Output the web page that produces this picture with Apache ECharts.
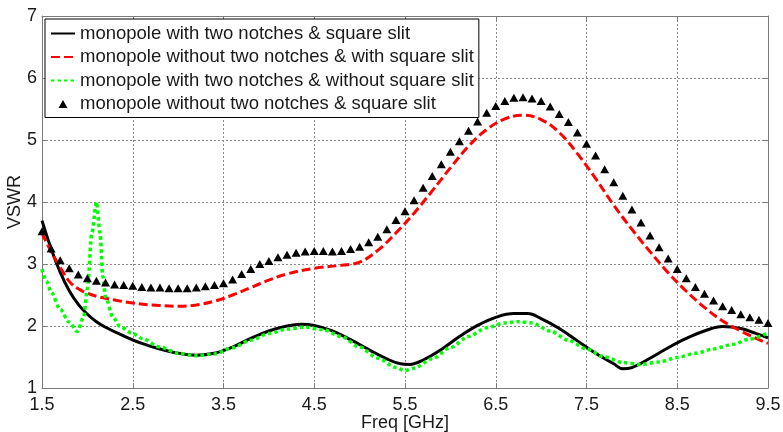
<!DOCTYPE html>
<html>
<head>
<meta charset="utf-8">
<script src="https://cdn.jsdelivr.net/npm/echarts@6/dist/echarts.min.js"></script>
<style>
  html, body { margin: 0; padding: 0; background: #fff; }
  #chart { width: 783px; height: 432px; }
</style>
</head>
<body>
<div id="chart"></div>
<script>
// Axis ticks
const freqTicks = [1.5, 2.5, 3.5, 4.5, 5.5, 6.5, 7.5, 8.5, 9.5];
const vswrTicks = [1, 2, 3, 4, 5, 6, 7];

// Series names
const seriesNames = [
  'monopole with two notches & square slit',
  'monopole without two notches & with square slit',
  'monopole with two notches & without square slit',
  'monopole without two notches & square slit'
];

// monopole with two notches & square slit
const blackFreq = [1.5, 1.6, 1.7, 1.8, 1.9, 2.0, 2.1, 2.2, 2.4, 2.6, 2.8, 3.0, 3.2, 3.4, 3.6, 3.8, 4.0, 4.2, 4.35, 4.5, 4.7, 4.9, 5.1, 5.3, 5.45, 5.55, 5.7, 5.9, 6.1, 6.3, 6.5, 6.7, 6.85, 7.0, 7.2, 7.4, 7.6, 7.8, 7.9, 8.0, 8.2, 8.4, 8.6, 8.8, 9.0, 9.2, 9.35, 9.5];
const blackVswr = [3.7, 3.25, 2.87, 2.57, 2.35, 2.19, 2.07, 1.98, 1.84, 1.72, 1.63, 1.56, 1.53, 1.56, 1.66, 1.8, 1.92, 2.0, 2.03, 2.01, 1.92, 1.78, 1.62, 1.47, 1.39, 1.38, 1.45, 1.62, 1.83, 2.01, 2.14, 2.2, 2.2, 2.12, 1.96, 1.76, 1.56, 1.39, 1.31, 1.33, 1.48, 1.65, 1.8, 1.92, 1.99, 1.96, 1.89, 1.81];

// monopole without two notches & with square slit
const redFreq = [1.5, 1.6, 1.7, 1.8, 1.9, 2.0, 2.1, 2.3, 2.5, 2.8, 3.0, 3.2, 3.4, 3.6, 3.8, 4.0, 4.2, 4.5, 4.8, 5.0, 5.2, 5.4, 5.6, 5.8, 6.0, 6.2, 6.4, 6.6, 6.8, 7.0, 7.2, 7.4, 7.6, 7.8, 8.0, 8.2, 8.4, 8.6, 8.8, 9.0, 9.2, 9.4, 9.5];
const redVswr = [3.5, 3.2, 2.95, 2.72, 2.6, 2.53, 2.48, 2.42, 2.37, 2.33, 2.32, 2.34, 2.4, 2.5, 2.62, 2.74, 2.84, 2.93, 2.98, 3.03, 3.22, 3.5, 3.82, 4.18, 4.55, 4.9, 5.17, 5.34, 5.4, 5.33, 5.12, 4.78, 4.38, 3.95, 3.56, 3.2, 2.86, 2.56, 2.3, 2.08, 1.92, 1.78, 1.72];

// monopole with two notches & without square slit
const greenFreq = [1.5, 1.55, 1.6, 1.7, 1.8, 1.89, 1.96, 2.0, 2.05, 2.1, 2.14, 2.17, 2.2, 2.28, 2.36, 2.5, 2.6, 2.8, 3.0, 3.2, 3.4, 3.6, 3.8, 4.0, 4.2, 4.4, 4.6, 4.8, 5.0, 5.2, 5.4, 5.5, 5.6, 5.8, 6.0, 6.2, 6.4, 6.6, 6.75, 6.9, 7.1, 7.3, 7.5, 7.7, 7.9, 8.1, 8.3, 8.5, 8.7, 8.9, 9.1, 9.3, 9.5];
const greenVswr = [2.92, 2.72, 2.55, 2.27, 2.06, 1.91, 2.15, 2.6, 3.5, 4.0, 3.5, 2.8, 2.47, 2.15, 1.99, 1.88, 1.8, 1.66, 1.56, 1.52, 1.55, 1.65, 1.77, 1.88, 1.95, 1.98, 1.94, 1.83, 1.66, 1.48, 1.33, 1.28, 1.32, 1.47, 1.65, 1.83, 1.97, 2.05, 2.07, 2.05, 1.92, 1.77, 1.63, 1.5, 1.41, 1.38, 1.42, 1.49, 1.56, 1.63, 1.7, 1.79, 1.89];

// monopole without two notches & square slit (sampled markers)
const markerFreq = [1.5, 1.6, 1.7, 1.8, 1.9, 2.0, 2.1, 2.2, 2.3, 2.4, 2.5, 2.6, 2.7, 2.8, 2.9, 3.0, 3.1, 3.2, 3.3, 3.4, 3.5, 3.6, 3.7, 3.8, 3.9, 4.0, 4.1, 4.2, 4.3, 4.4, 4.5, 4.6, 4.7, 4.8, 4.9, 5.0, 5.1, 5.2, 5.3, 5.4, 5.5, 5.6, 5.7, 5.8, 5.9, 6.0, 6.1, 6.2, 6.3, 6.4, 6.5, 6.6, 6.7, 6.8, 6.9, 7.0, 7.1, 7.2, 7.3, 7.4, 7.5, 7.6, 7.7, 7.8, 7.9, 8.0, 8.1, 8.2, 8.3, 8.4, 8.5, 8.6, 8.7, 8.8, 8.9, 9.0, 9.1, 9.2, 9.3, 9.4, 9.5];
const markerVswr = [3.53, 3.25, 3.06, 2.93, 2.83, 2.77, 2.73, 2.70, 2.67, 2.66, 2.65, 2.63, 2.62, 2.62, 2.61, 2.61, 2.61, 2.62, 2.64, 2.66, 2.69, 2.75, 2.84, 2.92, 3.00, 3.05, 3.11, 3.15, 3.18, 3.20, 3.21, 3.21, 3.20, 3.21, 3.24, 3.28, 3.35, 3.44, 3.56, 3.71, 3.85, 4.03, 4.23, 4.42, 4.61, 4.81, 4.98, 5.15, 5.30, 5.44, 5.55, 5.63, 5.68, 5.69, 5.67, 5.63, 5.54, 5.42, 5.29, 5.12, 4.94, 4.75, 4.53, 4.32, 4.10, 3.88, 3.67, 3.46, 3.27, 3.09, 2.92, 2.77, 2.63, 2.52, 2.41, 2.32, 2.26, 2.19, 2.14, 2.10, 2.05];

const pairs = (xs, ys) => xs.map((x, i) => [x, ys[i]]);

const FONT = '"Liberation Sans", Arial, sans-serif';
const TEXT = '#1a1a1a';
const FRAME = '#7a7a7a';

const xMin = freqTicks[0], xMax = freqTicks[freqTicks.length - 1];
const yMin = vswrTicks[0], yMax = vswrTicks[vswrTicks.length - 1];

const chart = echarts.init(document.getElementById('chart'), null, { renderer: 'canvas' });

const baseX = {
  type: 'value', min: xMin, max: xMax, interval: 1,
  axisLine: { show: true, lineStyle: { color: FRAME, width: 1 } },
  axisTick: { show: true, inside: true, length: 5, lineStyle: { color: FRAME } }
};
const baseY = {
  type: 'value', min: yMin, max: yMax, interval: 1,
  axisLine: { show: true, lineStyle: { color: FRAME, width: 1 } },
  axisTick: { show: true, inside: true, length: 5, lineStyle: { color: FRAME } }
};

// line legend entries show only the stroke, no marker
const hideMarker = { opacity: 0 };

chart.setOption({
  animation: false,
  backgroundColor: '#fff',
  grid: { left: 42, right: 15, top: 16, bottom: 44, containLabel: false, outerBoundsMode: 'none' },
  textStyle: { fontFamily: FONT },
  legend: {
    orient: 'vertical',
    left: 45, top: 19,
    padding: [5, 5, 4, 5],
    itemWidth: 24, itemHeight: 14, itemGap: 4.5,
    backgroundColor: '#fff',
    borderColor: '#000', borderWidth: 1, borderRadius: 0,
    textStyle: { fontFamily: FONT, fontSize: 18.5, color: TEXT },
    data: [
      { name: seriesNames[0], itemStyle: hideMarker },
      { name: seriesNames[1], itemStyle: hideMarker },
      { name: seriesNames[2], itemStyle: hideMarker },
      { name: seriesNames[3], icon: 'path://M0,0M24,14M7.5,11L12,3L16.5,11Z', itemStyle: { opacity: 1 } }
    ]
  },
  xAxis: [
    Object.assign({}, baseX, {
      position: 'bottom',
      name: 'Freq [GHz]', nameLocation: 'middle', nameGap: 26, nameMoveOverlap: false,
      nameTextStyle: { fontFamily: FONT, fontSize: 18, color: TEXT },
      axisLabel: { show: true, margin: 8, fontFamily: FONT, fontSize: 18, color: TEXT,
        formatter: v => v.toFixed(1) },
      splitLine: { show: true, lineStyle: { color: '#8c8c8c', width: 1, type: [2, 2] } }
    }),
    Object.assign({}, baseX, {
      position: 'top',
      axisLabel: { show: false },
      splitLine: { show: false }
    })
  ],
  yAxis: [
    Object.assign({}, baseY, {
      position: 'left',
      name: 'VSWR', nameLocation: 'middle', nameGap: 18, nameRotate: 90, nameMoveOverlap: false,
      nameTextStyle: { fontFamily: FONT, fontSize: 18, color: TEXT },
      axisLabel: { show: true, margin: 5, fontFamily: FONT, fontSize: 18, color: TEXT },
      splitLine: { show: true, lineStyle: { color: '#8c8c8c', width: 1, type: [2, 2] } }
    }),
    Object.assign({}, baseY, {
      position: 'right',
      axisLabel: { show: false },
      splitLine: { show: false }
    })
  ],
  series: [
    {
      name: seriesNames[0], type: 'line',
      data: pairs(blackFreq, blackVswr),
      smooth: 0.4,
      showSymbol: false, symbol: 'none',
      lineStyle: { color: '#000', width: 3 },
      itemStyle: { color: '#000' },
      z: 2
    },
    {
      name: seriesNames[1], type: 'line',
      data: pairs(redFreq, redVswr),
      smooth: 0.4,
      showSymbol: false, symbol: 'none',
      lineStyle: { color: '#ff0000', width: 3, type: [9, 4] },
      itemStyle: { color: '#ff0000' },
      z: 3
    },
    {
      name: seriesNames[2], type: 'line',
      data: pairs(greenFreq, greenVswr),
      smooth: 0.3, smoothMonotone: 'x',
      showSymbol: false, symbol: 'none',
      lineStyle: { color: '#00ff00', width: 3.5, type: [3.5, 3] },
      itemStyle: { color: '#00ff00' },
      z: 4
    },
    {
      name: seriesNames[3], type: 'scatter',
      data: pairs(markerFreq, markerVswr),
      symbol: 'triangle', symbolSize: [9, 8],
      itemStyle: { color: '#000', opacity: 1 },
      z: 5
    }
  ]
});
</script>
</body>
</html>
